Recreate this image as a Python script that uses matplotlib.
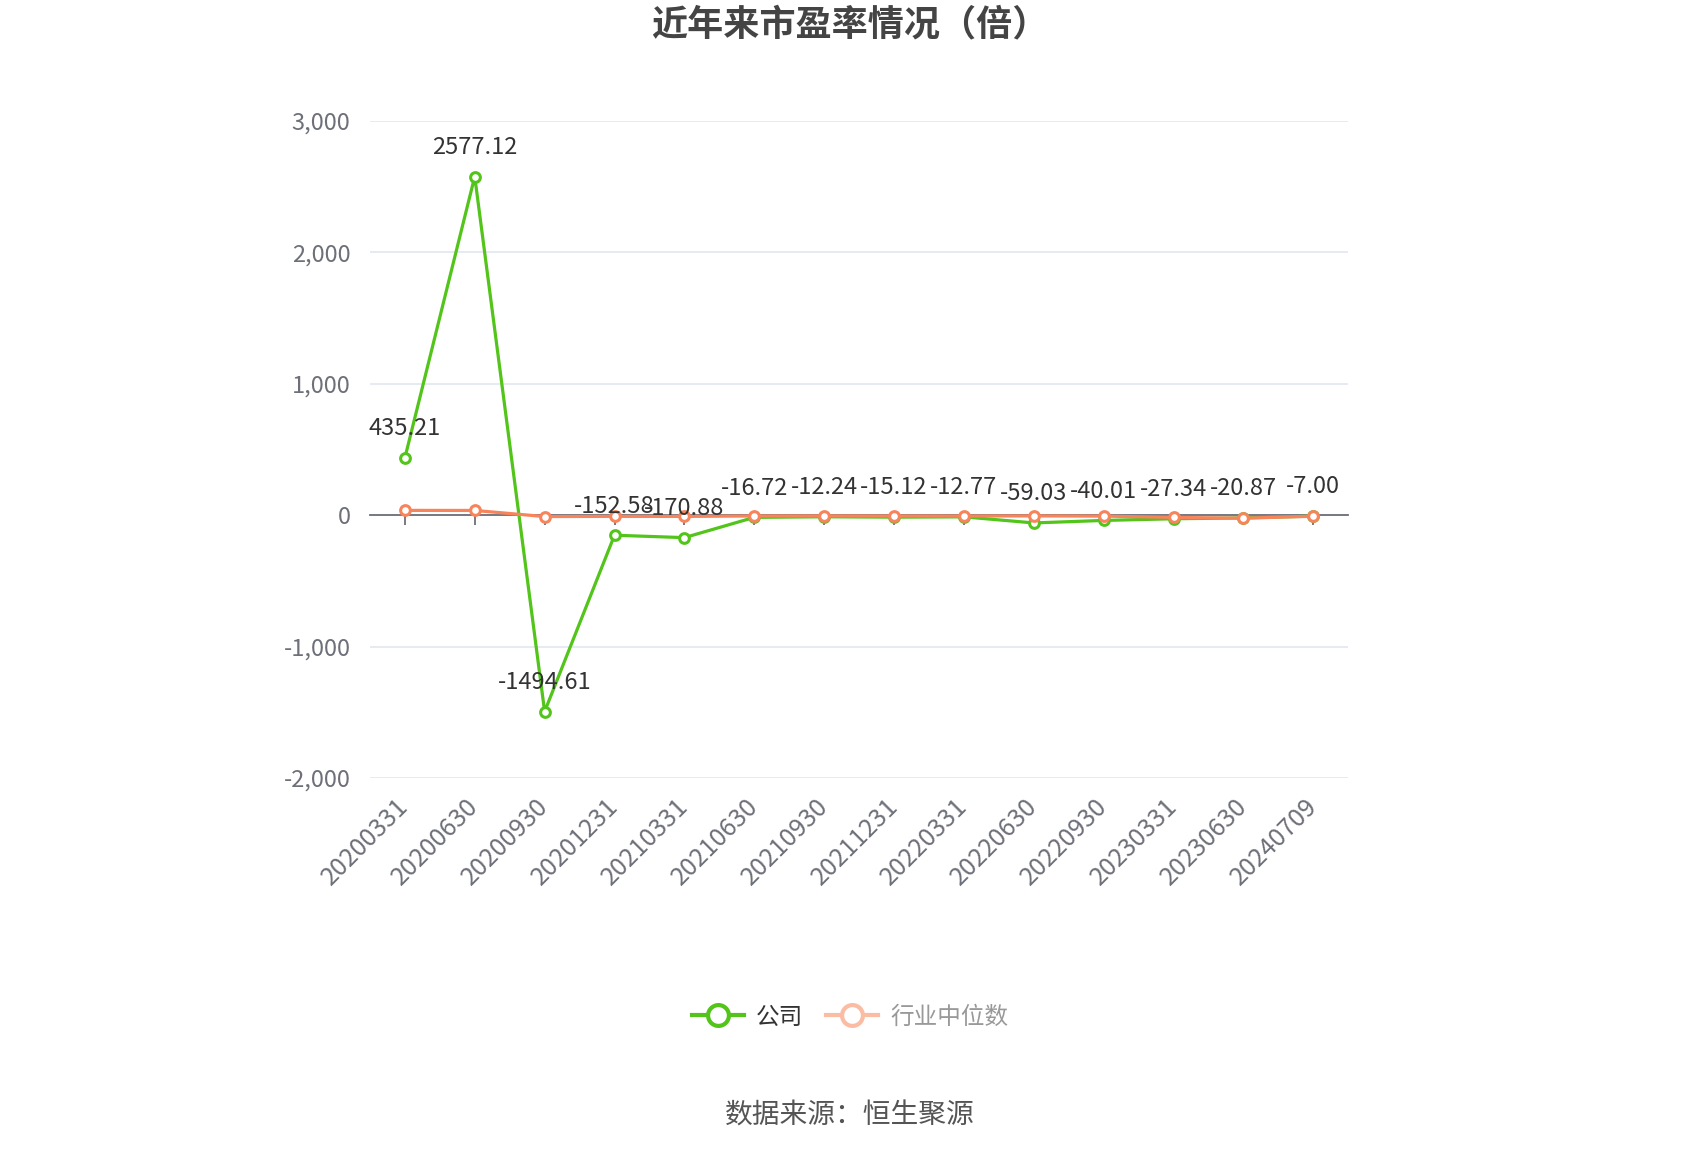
import matplotlib
matplotlib.use('Agg')
import matplotlib.pyplot as plt
from matplotlib.lines import Line2D
from matplotlib.ticker import FuncFormatter

plt.rcParams['font.family'] = ['Noto Sans CJK SC', 'DejaVu Sans']

dates = ['20200331', '20200630', '20200930', '20201231', '20210331', '20210630',
         '20210930', '20211231', '20220331', '20220630', '20220930', '20230331',
         '20230630', '20240709']
company = [435.21, 2577.12, -1494.61, -152.58, -170.88, -16.72, -12.24,
           -15.12, -12.77, -59.03, -40.01, -27.34, -20.87, -7.00]
industry = [36.5, 36.0, -10.5, -9.0, -9.5, -6.0, -5.5, -6.0, -6.5, -5.5,
            -7.0, -17.0, -23.0, -8.0]

green = '#52c41a'
orange = '#f7845a'
axis_grey = '#6e7079'

fig = plt.figure(figsize=(17, 11.5), dpi=100)
ax = fig.add_axes([0.2176, 0.3235, 0.5755, 0.5713])

x = list(range(len(dates)))
ax.plot(x, company, color=green, lw=2.3, marker='o', ms=7, mfc='white',
        mec=green, mew=2.2, zorder=4)
ax.plot(x, industry, color=orange, lw=2.3, marker='o', ms=7, mfc='white',
        mec=orange, mew=2.2, zorder=5)

for xi, v in zip(x, company):
    ax.annotate(f'{v:.2f}', (xi, v), xytext=(0, 21), textcoords='offset points',
                ha='center', va='center', fontsize=17, color='#333333', zorder=6)

ax.set_xlim(-0.5, len(dates) - 0.5)
ax.set_ylim(-2000, 3000)
ax.set_yticks([-2000, -1000, 0, 1000, 2000, 3000])
ax.yaxis.set_major_formatter(FuncFormatter(lambda v, p: f'{int(v):,}'))
ax.tick_params(axis='y', length=0, labelsize=17, labelcolor=axis_grey, pad=14)
ax.grid(axis='y', color='#e0e6f1', lw=1.2)
ax.set_axisbelow(True)

for s in ['top', 'right', 'left']:
    ax.spines[s].set_visible(False)
ax.spines['bottom'].set_position(('data', 0))
ax.spines['bottom'].set_color(axis_grey)
ax.spines['bottom'].set_linewidth(1.3)
ax.set_xticks(x)
ax.tick_params(axis='x', length=7, width=1.3, color=axis_grey, labelbottom=False)

sec = ax.secondary_xaxis('bottom')
sec.set_xticks(x, labels=dates)
sec.tick_params(length=0, pad=18, labelsize=18, labelcolor=axis_grey)
for lab in sec.get_xticklabels():
    lab.set_rotation(45)
    lab.set_ha('right')
    lab.set_va('center')
    lab.set_rotation_mode('anchor')
sec.spines['bottom'].set_visible(False)

fig.text(0.5, 1 - 25 / 1150, '近年来市盈率情况（倍）', ha='center', va='center',
         fontsize=26, fontweight='bold', color='#444444')

handles = [
    Line2D([], [], color=green, lw=3, marker='o', ms=15, mfc='white', mec=green, mew=3),
    Line2D([], [], color='#fbbca4', lw=3, marker='o', ms=15, mfc='white', mec='#fbbca4', mew=3),
]
leg = fig.legend(handles, ['公司', '行业中位数'], loc='center', ncol=2,
                 bbox_to_anchor=(0.5, 1 - 1017 / 1150), frameon=False,
                 fontsize=17, handlelength=2.2, columnspacing=1.0, handletextpad=0.5)
leg.get_texts()[0].set_color('#333333')
leg.get_texts()[1].set_color('#999999')

fig.text(0.5, 1 - 1116 / 1150, '数据来源：恒生聚源', ha='center', va='center',
         fontsize=20, color='#555555')

fig.savefig('out.png', dpi=100, facecolor='white')
